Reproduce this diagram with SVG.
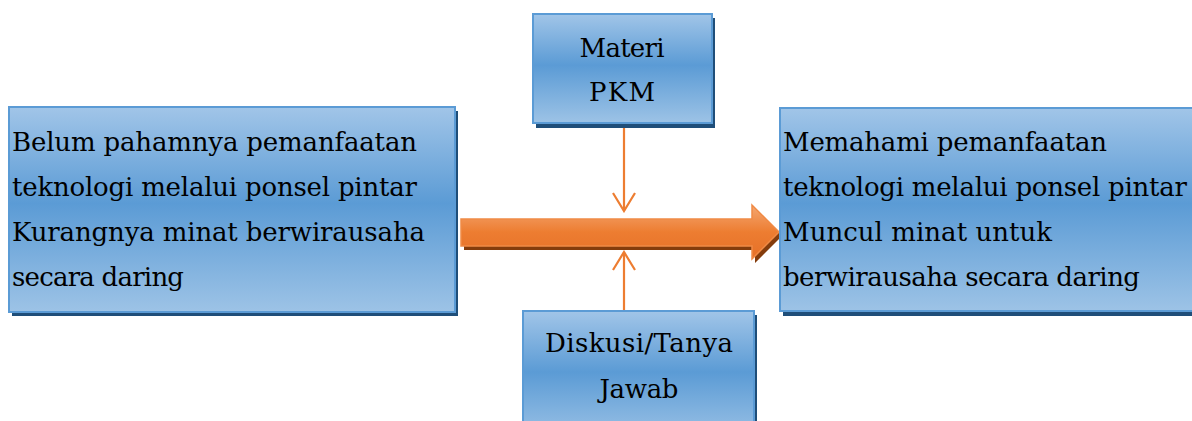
<svg xmlns="http://www.w3.org/2000/svg" width="1192" height="421" viewBox="0 0 1192 421">
<style>
.box{fill:url(#blueGrad);stroke:#5b9bd5;stroke-width:2}
.shadow{fill:#1f4e79}
.t{font-family:"DejaVu Serif","Liberation Serif",serif;font-size:26px;fill:#000}
.c{text-anchor:middle}
.conn{stroke:#ed7d31;stroke-width:2.2;fill:none}
</style>
<defs>
<linearGradient id="blueGrad" x1="0" y1="0" x2="0" y2="1">
<stop offset="0" stop-color="#a1c5e8"/>
<stop offset="0.47" stop-color="#5b9bd5"/>
<stop offset="1" stop-color="#9dc3e6"/>
</linearGradient>
<linearGradient id="orangeGrad" x1="0" y1="0" x2="0" y2="1">
<stop offset="0" stop-color="#f4a772"/>
<stop offset="0.5" stop-color="#ed7d31"/>
<stop offset="1" stop-color="#e57028"/>
</linearGradient>
<marker id="open" viewBox="-20 -12 22 24" refX="0" refY="0" markerWidth="22" markerHeight="24" markerUnits="userSpaceOnUse" orient="auto">
<path d="M-18,-11 L0,0 L-18,11" fill="none" stroke="#ed7d31" stroke-width="2.2"/>
</marker>
</defs>
<rect width="1192" height="421" fill="#fff"/>

<g id="connectors">
<g id="big-arrow">
<path d="M464,223 H755 V209 L782,236 L755,263 V250 H464 Z" fill="#843c0c"/>
<path d="M461,219 H752 V205 L779,232 L752,259 V246 H461 Z" fill="url(#orangeGrad)" stroke="#f08a45" stroke-width="1.5"/>
</g>
<line class="conn" x1="624" y1="127" x2="624" y2="211" marker-end="url(#open)"/>
<line class="conn" x1="624" y1="312" x2="624" y2="252" marker-end="url(#open)"/>
</g>

<g id="node-left">
<rect class="shadow" x="12" y="111" width="446" height="205"/>
<rect class="box" x="9" y="107" width="446" height="205"/>
<text class="t" x="12" y="151" textLength="405" lengthAdjust="spacing">Belum pahamnya pemanfaatan</text>
<text class="t" x="12" y="196" textLength="405" lengthAdjust="spacing">teknologi melalui ponsel pintar</text>
<text class="t" x="12" y="241" textLength="413" lengthAdjust="spacing">Kurangnya minat berwirausaha</text>
<text class="t" x="12" y="286" textLength="172" lengthAdjust="spacing">secara daring</text>
</g>

<g id="node-materi">
<rect class="shadow" x="536" y="18" width="179" height="110"/>
<rect class="box" x="533" y="14" width="179" height="109"/>
<text class="t c" x="622" y="57" textLength="85" lengthAdjust="spacing">Materi</text>
<text class="t c" x="622" y="101" textLength="66" lengthAdjust="spacing">PKM</text>
</g>

<g id="node-diskusi">
<rect class="shadow" x="526" y="315" width="231" height="130"/>
<rect class="box" x="523" y="311" width="231" height="130"/>
<text class="t c" x="639" y="352" textLength="188" lengthAdjust="spacing">Diskusi/Tanya</text>
<text class="t c" x="639" y="398" textLength="79" lengthAdjust="spacing">Jawab</text>
</g>

<g id="node-right">
<rect class="shadow" x="783" y="112" width="420" height="204"/>
<rect class="box" x="780" y="108" width="420" height="203"/>
<text class="t" x="783" y="151" textLength="324" lengthAdjust="spacing">Memahami pemanfaatan</text>
<text class="t" x="783" y="196" textLength="404" lengthAdjust="spacing">teknologi melalui ponsel pintar</text>
<text class="t" x="783" y="241" textLength="269" lengthAdjust="spacing">Muncul minat untuk</text>
<text class="t" x="783" y="286" textLength="357" lengthAdjust="spacing">berwirausaha secara daring</text>
</g>
</svg>
